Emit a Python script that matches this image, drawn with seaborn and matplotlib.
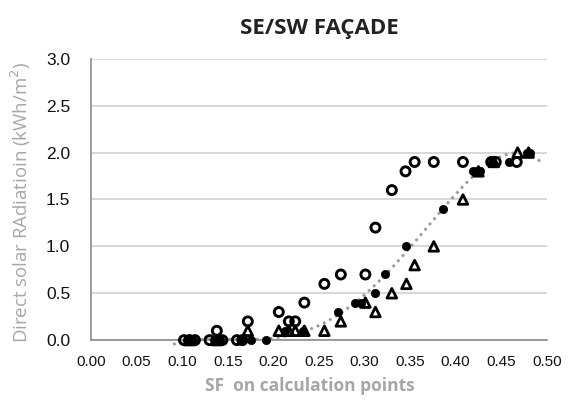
import numpy as np
import pandas as pd
import matplotlib
matplotlib.use("Agg")
import matplotlib.pyplot as plt
import seaborn as sns

# Open circles
open_x = [0.102, 0.108, 0.114, 0.130, 0.138, 0.144, 0.160, 0.166, 0.172, 0.206,
          0.217, 0.224, 0.234, 0.256, 0.274, 0.301, 0.312, 0.330, 0.345, 0.355,
          0.376, 0.408, 0.439, 0.444, 0.467]
open_y = [0, 0, 0, 0, 0.1, 0, 0, 0, 0.2, 0.3,
          0.2, 0.2, 0.4, 0.6, 0.7, 0.7, 1.2, 1.6, 1.8, 1.9,
          1.9, 1.9, 1.9, 1.9, 1.9]

# Filled circles
filled_x = [0.105, 0.112, 0.135, 0.142, 0.165, 0.175, 0.192, 0.213, 0.233, 0.271,
            0.290, 0.296, 0.311, 0.322, 0.346, 0.386, 0.419, 0.423, 0.427, 0.440,
            0.459, 0.478, 0.482]
filled_y = [0, 0, 0, 0, 0, 0, 0, 0.1, 0.1, 0.3,
            0.4, 0.4, 0.5, 0.7, 1.0, 1.4, 1.8, 1.8, 1.8, 1.9,
            1.9, 2.0, 2.0]

# Open triangles
tri_x = [0.108, 0.138, 0.172, 0.206, 0.217, 0.224, 0.234, 0.256, 0.274, 0.301,
         0.312, 0.330, 0.346, 0.355, 0.376, 0.408, 0.425, 0.442, 0.468, 0.480]
tri_y = [0, 0, 0.1, 0.1, 0.1, 0.1, 0.1, 0.1, 0.2, 0.4,
         0.3, 0.5, 0.6, 0.8, 1.0, 1.5, 1.8, 1.9, 2.0, 2.0]

x_ticks = [0.00, 0.05, 0.10, 0.15, 0.20, 0.25, 0.30, 0.35, 0.40, 0.45, 0.50]
y_ticks = [0.0, 0.5, 1.0, 1.5, 2.0, 2.5, 3.0]

title = "SE/SW FAÇADE"
x_label = "SF  on calculation points"
y_label = "Direct solar RAdiatioin (kWh/m$^2$)"

sns.set_theme(style="white")
plt.rcParams["font.family"] = ["Liberation Sans", "DejaVu Sans"]

fig = plt.figure(figsize=(5.69, 4.03), dpi=100)
ax = fig.add_axes([0.160, 0.156, 0.801, 0.698])

# Polynomial trend line through the filled-circle series
coef = np.polyfit(filled_x, filled_y, 5)
trend_x = np.linspace(0.09, 0.495, 200)
trend = pd.DataFrame({"x": trend_x, "y": np.polyval(coef, trend_x)})
sns.lineplot(data=trend, x="x", y="y", ax=ax, color="#9a9a9a",
             linestyle=(0, (1, 1.5)), linewidth=2.0, zorder=2, clip_on=False)

df_open = pd.DataFrame({"x": open_x, "y": open_y})
df_fill = pd.DataFrame({"x": filled_x, "y": filled_y})
df_tri = pd.DataFrame({"x": tri_x, "y": tri_y})

sns.scatterplot(data=df_open, x="x", y="y", ax=ax, marker="o", s=42,
                facecolor="none", edgecolor="black", linewidth=2.1, zorder=3,
                clip_on=False)
sns.scatterplot(data=df_tri, x="x", y="y", ax=ax, marker="^", s=48,
                facecolor="none", edgecolor="black", linewidth=2.0, zorder=3,
                clip_on=False)
sns.scatterplot(data=df_fill, x="x", y="y", ax=ax, marker="o", s=36,
                color="black", edgecolor="black", linewidth=0.5, zorder=4,
                clip_on=False)

ax.set_xlim(0, 0.5)
ax.set_ylim(0, 3.0)
ax.set_xticks(x_ticks)
ax.set_yticks(y_ticks)
ax.set_xticklabels([f"{v:.2f}" for v in x_ticks], fontsize=11, color="#111111")
ax.set_yticklabels([f"{v:.1f}" for v in y_ticks], fontsize=12.5, color="#111111")
ax.tick_params(axis="both", direction="out", length=6, width=1, color="#8c8c8c")
ax.tick_params(axis="y", pad=9)
ax.tick_params(axis="x", pad=5)

ax.yaxis.grid(True, color="#d4d4d4", linewidth=1.3)
ax.xaxis.grid(False)
ax.set_axisbelow(True)
for side in ("top", "right"):
    ax.spines[side].set_visible(False)
for side in ("left", "bottom"):
    ax.spines[side].set_color("#8c8c8c")
    ax.spines[side].set_linewidth(1.2)

ax.set_xlabel(x_label, fontsize=12.5, color="#a6a6a6", fontweight="bold",
              family=["Open Sans", "DejaVu Sans"], labelpad=6)
ax.xaxis.set_label_coords(0.48, -0.13)
ax.set_ylabel(y_label, fontsize=13.4, color="#a6a6a6",
              family=["Open Sans", "DejaVu Sans"])
ax.yaxis.set_label_coords(-0.128, 0.49)
ax.set_title(title, fontsize=16, fontweight="bold", color="#222222",
             family=["Open Sans", "DejaVu Sans"], pad=18)

fig.savefig("out.png", dpi=100)
